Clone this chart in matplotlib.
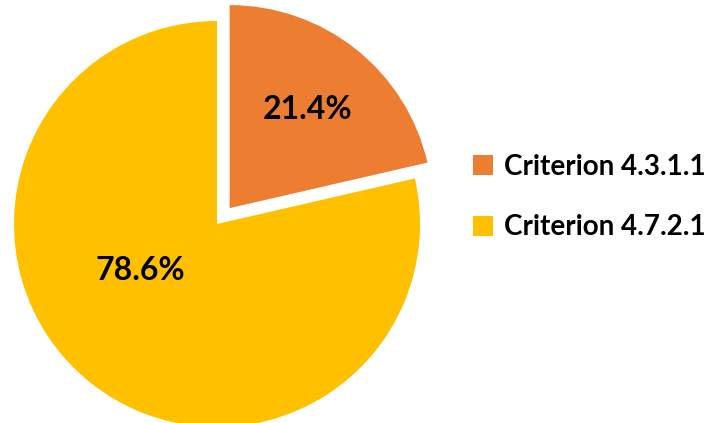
import matplotlib.pyplot as plt

labels = ['Criterion 4.3.1.1', 'Criterion 4.7.2.1']
shares = [21.4, 78.6]
colors = ['#ED7D31', '#FFC000']
explode = [0.1, 0.0]

plt.rcParams['font.family'] = ['Lato', 'DejaVu Sans']

W, H = 705, 423
fig = plt.figure(figsize=(W / 100, H / 100), dpi=100)

# pie centre / radius in pixels
cx, cy, r = 217, 224, 203
lim = 1.2
side = 2 * lim * r
ax = fig.add_axes([(cx - side / 2) / W, (H - cy - side / 2) / H, side / W, side / H])

wedges, texts, autotexts = ax.pie(shares, colors=colors, explode=explode,
                                  startangle=90, counterclock=False,
                                  autopct='%1.1f%%', pctdistance=0.62,
                                  wedgeprops=dict(linewidth=0))
for t in autotexts:
    t.set_fontsize(23)
    t.set_fontweight('bold')
    t.set_color('black')
# excel-style placement of the big slice label
autotexts[1].set_position((-0.38, -0.23))

ax.set_xlim(-lim, lim)
ax.set_ylim(-lim, lim)
ax.set_aspect('equal')
ax.axis('off')

fig.legend(wedges, labels, loc='center left',
           bbox_to_anchor=(448 / W, 1 - 197 / H), frameon=False,
           prop=dict(size=20, weight='bold'), handlelength=0.72,
           handleheight=0.72, handletextpad=0.4, labelspacing=1.25)

fig.savefig('out.png', dpi=100)
